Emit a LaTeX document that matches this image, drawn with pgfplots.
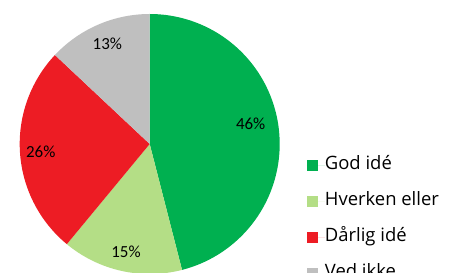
\documentclass[border=0pt]{standalone}
\usepackage{pgfplots}
\pgfplotsset{compat=1.18}
\usepackage{fontspec}
\setmainfont{Open Sans}
\newfontfamily\labfont{Carlito}
\definecolor{cGood}{RGB}{0,176,80}
\definecolor{cNeither}{RGB}{180,222,134}
\definecolor{cBad}{RGB}{237,28,36}
\definecolor{cDK}{RGB}{191,191,191}
\begin{document}
\begin{tikzpicture}
\useasboundingbox (0bp,0bp) rectangle (454bp,273bp);
\clip (0bp,0bp) rectangle (454bp,273bp);
% shares (percent), clockwise from 12 o'clock
\pgfmathsetmacro\aA{90}
\pgfmathsetmacro\aB{\aA-46*3.6}
\pgfmathsetmacro\aC{\aB-15*3.6}
\pgfmathsetmacro\aD{\aC-26*3.6}
\pgfmathsetmacro\aE{\aD-13*3.6}
\begin{axis}[at={(149.7bp,129bp)}, anchor=center,
  width=260bp, height=260bp, scale only axis,
  xmin=-1, xmax=1, ymin=-1, ymax=1,
  hide axis, clip=false,
  legend cell align=left,
  legend image code/.code={\fill[#1] (0bp,-5.5bp) rectangle (11bp,5.5bp); \path (0bp,0bp) -- (18bp,0bp);},
  legend style={draw=none, fill=none, inner sep=0pt,
    at={(1.104,0.452)}, anchor=north west,
    font=\fontsize{18.5}{20}\selectfont,
    row sep=19bp,
    nodes={inner sep=0pt, text height=13bp, text depth=4bp}},
]
\addplot[fill=cGood, draw=none, domain=\aB:\aA, samples=120] ({cos(x)},{sin(x)}) -- (axis cs:0,0) -- cycle;
\addlegendentry{God idé}
\addplot[fill=cNeither, draw=none, domain=\aC:\aB, samples=60] ({cos(x)},{sin(x)}) -- (axis cs:0,0) -- cycle;
\addlegendentry{Hverken eller}
\addplot[fill=cBad, draw=none, domain=\aD:\aC, samples=80] ({cos(x)},{sin(x)}) -- (axis cs:0,0) -- cycle;
\addlegendentry{Dårlig idé}
\addplot[fill=cDK, draw=none, domain=\aE:\aD, samples=50] ({cos(x)},{sin(x)}) -- (axis cs:0,0) -- cycle;
\addlegendentry{Ved ikke}
\begin{scope}[font=\labfont\fontsize{17}{17}\selectfont]
\node at (axis cs:0.777,0.159) {46\%};
\node at (axis cs:-0.182,-0.831) {15\%};
\node at (axis cs:-0.838,-0.059) {26\%};
\node at (axis cs:-0.326,0.769) {13\%};
\end{scope}
\end{axis}
\end{tikzpicture}
\end{document}
